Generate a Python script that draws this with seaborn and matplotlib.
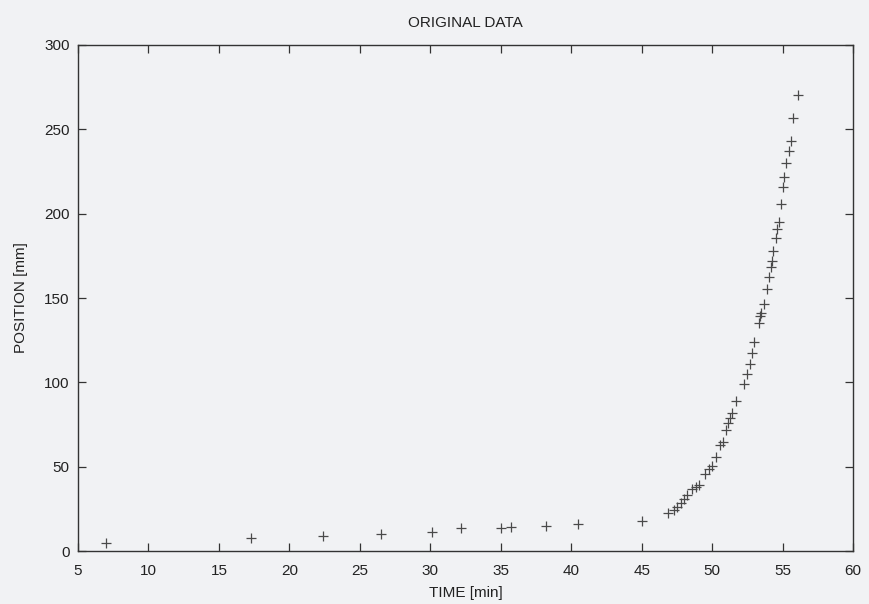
import matplotlib
matplotlib.use("Agg")
import matplotlib.pyplot as plt
import seaborn as sns
import pandas as pd

# Measured position of the front over time
time_min = [7.0, 17.3, 22.4, 26.5, 30.1, 32.2, 35.0, 35.7, 38.2, 40.5, 45.0,
            46.9, 47.3, 47.5, 47.8, 48.0, 48.2, 48.55, 48.85, 49.1,
            49.5, 49.8, 50.0, 50.3, 50.55, 50.8, 51.0, 51.15, 51.25, 51.4,
            51.7, 52.25, 52.5, 52.7, 52.82, 52.95, 53.3, 53.42, 53.5, 53.65,
            53.9, 54.03, 54.15, 54.24, 54.31, 54.5, 54.62, 54.74, 54.86, 55.02,
            55.09, 55.26, 55.45, 55.57, 55.73, 56.1]
position_mm = [5.0, 8.0, 9.0, 10.0, 11.0, 13.5, 13.5, 14.5, 15.0, 16.0, 18.0,
               22.8, 24.5, 26.0, 28.5, 31.0, 33.5, 36.6, 38.2, 39.2,
               45.5, 48.6, 50.6, 55.5, 63.0, 64.8, 71.8, 75.7, 79.0, 82.0,
               89.0, 99.0, 104.8, 111.0, 117.3, 124.0, 135.0, 139.4, 141.3, 146.5,
               155.2, 162.5, 168.3, 172.0, 177.9, 185.8, 190.8, 195.0, 205.8, 216.0,
               222.0, 230.0, 237.0, 243.0, 257.0, 270.5]

x_ticks = [5, 10, 15, 20, 25, 30, 35, 40, 45, 50, 55, 60]
y_ticks = [0, 50, 100, 150, 200, 250, 300]

df = pd.DataFrame({"TIME": time_min, "POSITION": position_mm})

sns.set_theme(style="ticks")
plt.rcParams["font.family"] = ["Liberation Sans", "DejaVu Sans"]

paper = "#f1f2f4"
ink = "#333333"

fig = plt.figure(figsize=(8.69, 6.04), dpi=100, facecolor=paper)
ax = fig.add_axes([0.0898, 0.0877, 0.8918, 0.8378])
ax.set_facecolor(paper)

sns.scatterplot(data=df, x="TIME", y="POSITION", marker="+", s=50,
                color="#4a4a4a", linewidth=0.9, ax=ax, legend=False)

ax.set_xlim(5, 60)
ax.set_ylim(0, 300)
ax.set_xticks(x_ticks)
ax.set_yticks(y_ticks)
ax.tick_params(axis="both", direction="in", length=6, width=0.9, color=ink,
               labelsize=11, labelcolor="#222222", top=True, right=True, pad=6)
ax.tick_params(axis="x", pad=9)
for side in ax.spines.values():
    side.set_visible(True)
    side.set_color(ink)
    side.set_linewidth(1.0)

ax.set_xlabel("TIME [min]", fontsize=11, color="#222222", labelpad=6)
ax.set_ylabel("POSITION [mm]", fontsize=11, color="#222222", labelpad=12)
ax.set_title("ORIGINAL DATA", fontsize=11, color="#222222", pad=13)

fig.savefig("out.png", dpi=100, facecolor=paper)
